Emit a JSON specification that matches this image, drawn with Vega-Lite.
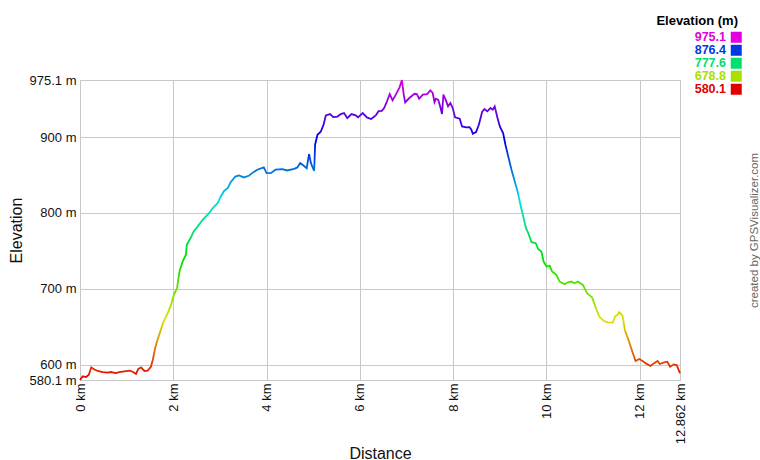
{
  "$schema": "https://vega.github.io/schema/vega-lite/v6.json",
  "width": 600,
  "height": 300,
  "autosize": {"type": "none"},
  "padding": {"left": 80, "top": 80, "right": 80, "bottom": 80},
  "background": "white",
  "config": {
    "font": "Liberation Sans",
    "view": {"stroke": "#c8c8c8", "strokeWidth": 1}
  },
  "title": {
    "text": "Elevation (m)",
    "anchor": "end",
    "frame": "group",
    "dx": 58,
    "dy": 1,
    "fontSize": 13,
    "fontWeight": "bold",
    "color": "#000000",
    "font": "Liberation Sans"
  },
  "data": {
    "values": [
      {"km": 0, "elev": 580.1}, {"km": 0.06, "elev": 585}, {"km": 0.13, "elev": 584}, {"km": 0.19, "elev": 587},
      {"km": 0.24, "elev": 596.8}, {"km": 0.31, "elev": 594}, {"km": 0.38, "elev": 592}, {"km": 0.49, "elev": 590.6},
      {"km": 0.59, "elev": 589.7}, {"km": 0.66, "elev": 590.6}, {"km": 0.77, "elev": 589.3}, {"km": 0.84, "elev": 590.6},
      {"km": 0.95, "elev": 591.5}, {"km": 1.06, "elev": 592.4}, {"km": 1.13, "elev": 591}, {"km": 1.2, "elev": 588},
      {"km": 1.25, "elev": 594.6}, {"km": 1.31, "elev": 596.8}, {"km": 1.38, "elev": 592}, {"km": 1.45, "elev": 592.4},
      {"km": 1.52, "elev": 597.6}, {"km": 1.56, "elev": 606.5}, {"km": 1.61, "elev": 621.9}, {"km": 1.66, "elev": 632.8},
      {"km": 1.72, "elev": 643.8}, {"km": 1.79, "elev": 657}, {"km": 1.88, "elev": 668}, {"km": 1.95, "elev": 679},
      {"km": 2.01, "elev": 692}, {"km": 2.08, "elev": 701}, {"km": 2.11, "elev": 714}, {"km": 2.14, "elev": 725},
      {"km": 2.2, "elev": 736}, {"km": 2.27, "elev": 745}, {"km": 2.29, "elev": 758}, {"km": 2.37, "elev": 767},
      {"km": 2.44, "elev": 776}, {"km": 2.52, "elev": 782}, {"km": 2.63, "elev": 791}, {"km": 2.77, "elev": 800},
      {"km": 2.84, "elev": 806}, {"km": 2.95, "elev": 813}, {"km": 3.02, "elev": 822}, {"km": 3.09, "elev": 829},
      {"km": 3.17, "elev": 833}, {"km": 3.23, "elev": 840.6}, {"km": 3.33, "elev": 848}, {"km": 3.41, "elev": 849.5},
      {"km": 3.51, "elev": 846.8}, {"km": 3.62, "elev": 849}, {"km": 3.69, "elev": 852.5}, {"km": 3.8, "elev": 857},
      {"km": 3.94, "elev": 860}, {"km": 4.0, "elev": 852.5}, {"km": 4.09, "elev": 852.5}, {"km": 4.19, "elev": 857},
      {"km": 4.34, "elev": 857.8}, {"km": 4.44, "elev": 856}, {"km": 4.59, "elev": 858.2}, {"km": 4.66, "elev": 860},
      {"km": 4.72, "elev": 865.7}, {"km": 4.79, "elev": 862.6}, {"km": 4.86, "elev": 859}, {"km": 4.91, "elev": 877.6},
      {"km": 4.95, "elev": 865.7}, {"km": 4.98, "elev": 861}, {"km": 5.02, "elev": 855.6}, {"km": 5.04, "elev": 889.9},
      {"km": 5.09, "elev": 903}, {"km": 5.16, "elev": 907}, {"km": 5.22, "elev": 916}, {"km": 5.27, "elev": 928.5},
      {"km": 5.36, "elev": 930.3}, {"km": 5.43, "elev": 926.3}, {"km": 5.52, "elev": 927}, {"km": 5.59, "elev": 930.3},
      {"km": 5.66, "elev": 931.6}, {"km": 5.73, "elev": 925}, {"km": 5.82, "elev": 930.3}, {"km": 5.91, "elev": 928.5},
      {"km": 5.96, "elev": 925.9}, {"km": 6.06, "elev": 931.6}, {"km": 6.15, "elev": 925.9}, {"km": 6.24, "elev": 923.7},
      {"km": 6.34, "elev": 928.5}, {"km": 6.4, "elev": 934}, {"km": 6.47, "elev": 934.5}, {"km": 6.52, "elev": 938.2},
      {"km": 6.58, "elev": 947}, {"km": 6.64, "elev": 956.6}, {"km": 6.7, "elev": 948.3}, {"km": 6.77, "elev": 955.8},
      {"km": 6.85, "elev": 965.4}, {"km": 6.9, "elev": 975.1}, {"km": 6.94, "elev": 955.8}, {"km": 6.97, "elev": 945.7},
      {"km": 7.06, "elev": 951.4}, {"km": 7.17, "elev": 957}, {"km": 7.22, "elev": 956.6}, {"km": 7.27, "elev": 950.5},
      {"km": 7.35, "elev": 955.8}, {"km": 7.44, "elev": 956.6}, {"km": 7.51, "elev": 961.5}, {"km": 7.56, "elev": 958},
      {"km": 7.6, "elev": 946}, {"km": 7.63, "elev": 950.5}, {"km": 7.68, "elev": 949}, {"km": 7.73, "elev": 938.2},
      {"km": 7.76, "elev": 930.3}, {"km": 7.79, "elev": 955.8}, {"km": 7.84, "elev": 949}, {"km": 7.89, "elev": 940.4},
      {"km": 7.94, "elev": 944.8}, {"km": 7.99, "elev": 938.2}, {"km": 8.04, "elev": 925.9}, {"km": 8.14, "elev": 924.1},
      {"km": 8.19, "elev": 914}, {"km": 8.28, "elev": 912.7}, {"km": 8.35, "elev": 913}, {"km": 8.39, "elev": 909.6},
      {"km": 8.42, "elev": 904.4}, {"km": 8.49, "elev": 906.6}, {"km": 8.55, "elev": 916.2}, {"km": 8.62, "elev": 933},
      {"km": 8.67, "elev": 936.9}, {"km": 8.73, "elev": 933.9}, {"km": 8.8, "elev": 938.2}, {"km": 8.85, "elev": 936},
      {"km": 8.89, "elev": 940.4}, {"km": 8.95, "elev": 925}, {"km": 9.0, "elev": 914}, {"km": 9.07, "elev": 905.3},
      {"km": 9.12, "elev": 889.9}, {"km": 9.18, "elev": 874.5}, {"km": 9.25, "elev": 857}, {"km": 9.32, "elev": 841.5},
      {"km": 9.38, "elev": 828.4}, {"km": 9.45, "elev": 808.6}, {"km": 9.51, "elev": 793.2}, {"km": 9.56, "elev": 780},
      {"km": 9.61, "elev": 773.4}, {"km": 9.68, "elev": 761.5}, {"km": 9.77, "elev": 760.2}, {"km": 9.82, "elev": 752.8},
      {"km": 9.89, "elev": 749.3}, {"km": 9.94, "elev": 736}, {"km": 10.0, "elev": 729.5}, {"km": 10.07, "elev": 730.4},
      {"km": 10.12, "elev": 722.9}, {"km": 10.21, "elev": 718.5}, {"km": 10.28, "elev": 709.7}, {"km": 10.39, "elev": 706.2},
      {"km": 10.46, "elev": 708.8}, {"km": 10.53, "elev": 709.7}, {"km": 10.6, "elev": 707.5}, {"km": 10.67, "elev": 709.7},
      {"km": 10.78, "elev": 705.3}, {"km": 10.87, "elev": 694.3}, {"km": 10.98, "elev": 688.6}, {"km": 11.06, "elev": 674.5},
      {"km": 11.13, "elev": 663.6}, {"km": 11.23, "elev": 657.8}, {"km": 11.31, "elev": 656.1}, {"km": 11.42, "elev": 655.6},
      {"km": 11.47, "elev": 663.6}, {"km": 11.52, "elev": 665.8}, {"km": 11.56, "elev": 669.3}, {"km": 11.63, "elev": 664.9},
      {"km": 11.68, "elev": 646}, {"km": 11.77, "elev": 630.6}, {"km": 11.84, "elev": 617.4}, {"km": 11.91, "elev": 605.1},
      {"km": 11.99, "elev": 607.7}, {"km": 12.06, "elev": 605.1}, {"km": 12.13, "elev": 602}, {"km": 12.23, "elev": 598.5},
      {"km": 12.3, "elev": 602}, {"km": 12.38, "elev": 605.1}, {"km": 12.43, "elev": 601.2}, {"km": 12.52, "elev": 603.4},
      {"km": 12.59, "elev": 604.2}, {"km": 12.65, "elev": 597.6}, {"km": 12.73, "elev": 600.7}, {"km": 12.79, "elev": 599.8},
      {"km": 12.82, "elev": 595.5}, {"km": 12.862, "elev": 589}
    ]
  },
  "layer": [
    {
      "mark": {
        "type": "line",
        "strokeWidth": 1.8,
        "stroke": {
          "gradient": "linear",
          "x1": 0, "y1": 1, "x2": 0, "y2": 0,
          "stops": [
            {"offset": 0, "color": "#e00000"},
            {"offset": 0.2, "color": "#e0e000"},
            {"offset": 0.4, "color": "#00e000"},
            {"offset": 0.6, "color": "#00e0e0"},
            {"offset": 0.8, "color": "#0000e0"},
            {"offset": 1, "color": "#e000e0"}
          ]
        }
      },
      "encoding": {
        "x": {
          "field": "km",
          "type": "quantitative",
          "scale": {"domain": [0, 12.862], "nice": false, "zero": false},
          "axis": {
            "title": "Distance",
            "values": [0, 2, 4, 6, 8, 10, 12, 12.862],
            "labelExpr": "datum.value + ' km'",
            "labelAngle": 270,
            "labelAlign": "right",
            "labelBaseline": "middle",
            "labelFontSize": 13,
            "labelColor": "#111111",
            "labelPadding": 3,
            "labelOverlap": false,
            "labelFlush": false,
            "ticks": false,
            "domain": false,
            "gridColor": "#c8c8c8",
            "titleFontSize": 16,
            "titleFontWeight": "normal",
            "titleColor": "#111111",
            "titleBaseline": "alphabetic",
            "titleY": 78
          }
        },
        "y": {
          "field": "elev",
          "type": "quantitative",
          "scale": {"domain": [580.1, 975.1], "nice": false, "zero": false},
          "axis": {
            "title": "Elevation",
            "values": [580.1, 600, 700, 800, 900, 975.1],
            "labelExpr": "datum.value + ' m'",
            "labelFontSize": 13,
            "labelColor": "#111111",
            "labelPadding": 4,
            "labelOverlap": false,
            "labelFlush": false,
            "ticks": false,
            "domain": false,
            "gridColor": "#c8c8c8",
            "titleFontSize": 16,
            "titleFontWeight": "normal",
            "titleColor": "#111111",
            "titleAngle": 270,
            "titleBaseline": "alphabetic",
            "titleX": -59,
            "titleY": 150
          }
        }
      }
    },
    {
      "mark": {"type": "point", "filled": true, "shape": "square", "opacity": 0},
      "encoding": {
        "x": {"field": "km", "type": "quantitative"},
        "y": {
          "field": "elev",
          "type": "quantitative",
          "axis": {
            "orient": "right",
            "title": "created by GPSVisualizer.com",
            "labels": false,
            "ticks": false,
            "domain": false,
            "grid": false,
            "titleColor": "#666666",
            "titleFontSize": 11.5,
            "titleFontWeight": "normal",
            "titleAngle": 270,
            "titleBaseline": "alphabetic",
            "titleX": 77,
            "titleY": 150
          }
        },
        "color": {
          "field": "elev",
          "type": "quantitative",
          "scale": {
            "type": "linear",
            "domain": [580.1, 659.1, 738.1, 817.1, 896.1, 975.1],
            "range": ["#e00000", "#e0e000", "#00e000", "#00e0e0", "#0000e0", "#e000e0"],
            "interpolate": "rgb"
          },
          "legend": {
            "type": "symbol",
            "orient": "none",
            "legendX": 650,
            "legendY": -49,
            "values": [975.1, 876.4, 777.6, 678.8, 580.1],
            "format": ".1f",
            "title": null,
            "symbolType": "square",
            "symbolSize": 121,
            "symbolStrokeWidth": 0,
            "symbolOpacity": 1,
            "labelFontSize": 12.5,
            "labelFontWeight": "bold",
            "labelFont": "Liberation Sans",
            "rowPadding": 0,
            "padding": 0,
            "encode": {
              "labels": {
                "update": {
                  "x": {"value": -4},
                  "align": {"value": "right"},
                  "fill": {"scale": "color", "field": "value"}
                }
              }
            }
          }
        }
      }
    }
  ],
  "resolve": {"axis": {"y": "independent"}}
}
